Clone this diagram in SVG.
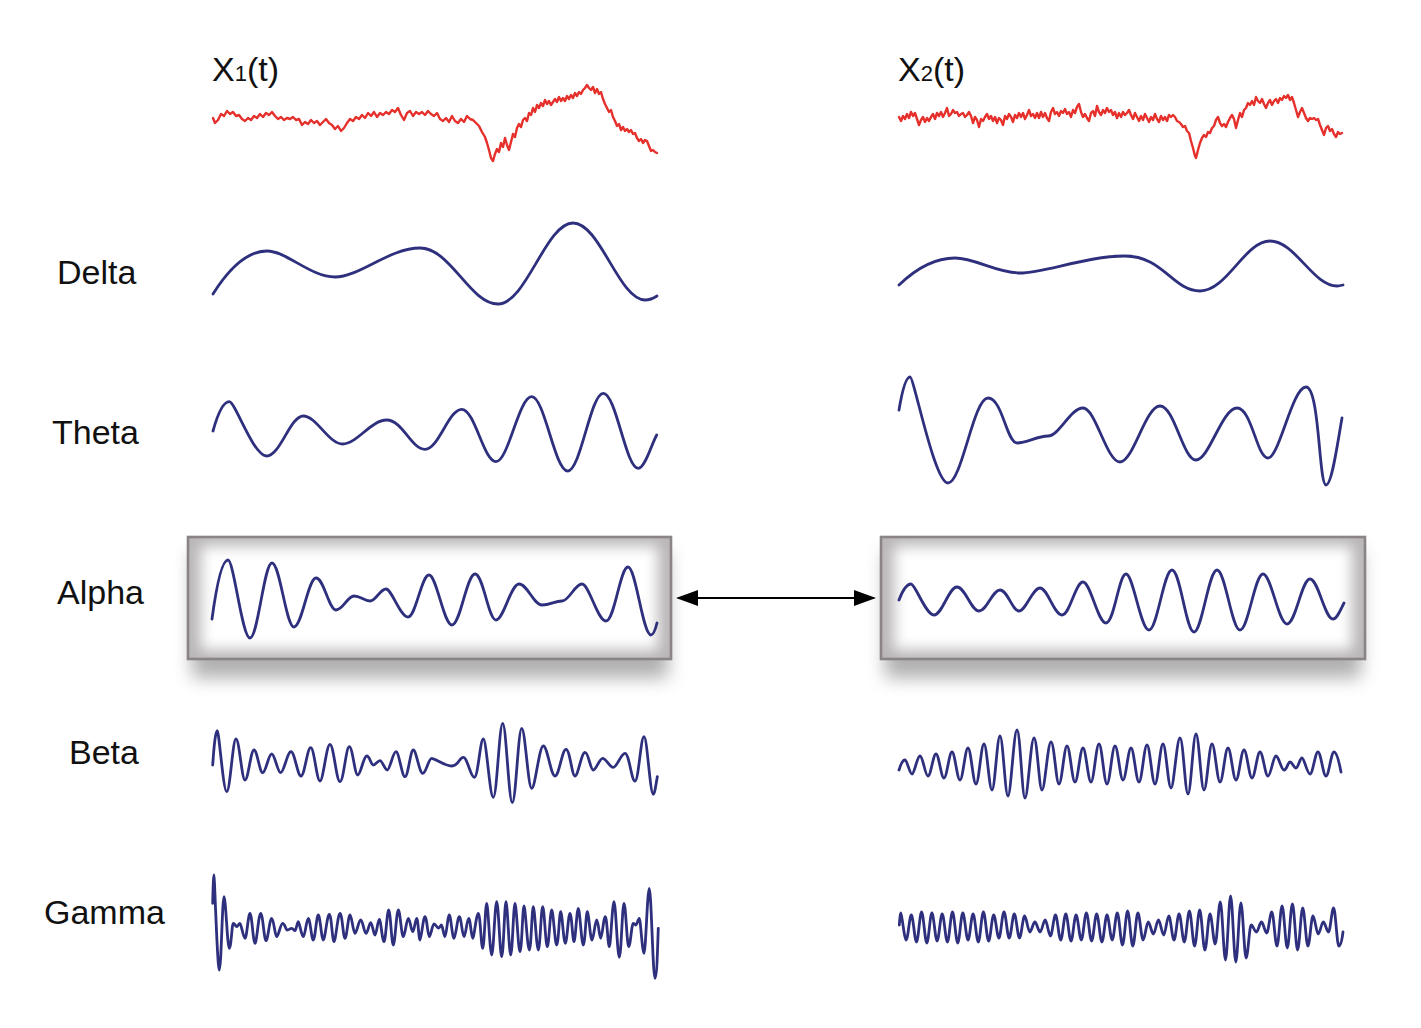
<svg xmlns="http://www.w3.org/2000/svg" width="1421" height="1028" viewBox="0 0 1421 1028">
<style>
.lbl{font-family:"Liberation Sans",Arial,Helvetica,sans-serif;font-size:34px;fill:#111}
.sig{fill:none;stroke:#2e307e;stroke-width:2.8;stroke-linejoin:round;stroke-linecap:round}
.raw{fill:none;stroke:#e5302c;stroke-width:2.4;stroke-linejoin:round;stroke-linecap:round}
.frame{fill:none;stroke:#8b8486;stroke-width:2.6}
.inner{fill:none;stroke:#b9b6b7;stroke-width:26}
.outer{fill:#7d7a7b;opacity:0.6}
</style>
<defs>
<filter id="blurOut" x="-10%" y="-40%" width="120%" height="180%"><feGaussianBlur stdDeviation="9"/></filter>
<filter id="blurIn" x="-10%" y="-30%" width="120%" height="160%"><feGaussianBlur stdDeviation="7"/></filter>
<clipPath id="clipL"><rect x="188" y="537" width="483" height="122"/></clipPath>
<clipPath id="clipR"><rect x="881" y="537" width="484" height="122"/></clipPath>
<marker id="ah" viewBox="0 0 22 16" refX="20" refY="8" markerWidth="22" markerHeight="16" markerUnits="userSpaceOnUse" orient="auto-start-reverse"><path d="M0,0 L22,8 L0,16 Z" fill="#000"/></marker>
</defs>
<rect width="1421" height="1028" fill="#fff"/>

<g id="box-alpha-x1">
<rect class="outer" x="192" y="552" width="476" height="126" filter="url(#blurOut)"/>
<rect x="188" y="537" width="483" height="122" fill="#fff"/>
<rect class="inner" x="188" y="533" width="483" height="130" filter="url(#blurIn)" clip-path="url(#clipL)"/>
<rect class="frame" x="188" y="537" width="483" height="122"/>
</g>
<g id="box-alpha-x2">
<rect class="outer" x="885" y="552" width="476" height="126" filter="url(#blurOut)"/>
<rect x="881" y="537" width="484" height="122" fill="#fff"/>
<rect class="inner" x="881" y="533" width="484" height="130" filter="url(#blurIn)" clip-path="url(#clipR)"/>
<rect class="frame" x="881" y="537" width="484" height="122"/>
</g>

<g id="labels">
<text class="lbl" x="212" y="81">X<tspan font-size="22">1</tspan>(t)</text>
<text class="lbl" x="898" y="81">X<tspan font-size="22">2</tspan>(t)</text>
<text class="lbl" x="57" y="284">Delta</text>
<text class="lbl" x="52" y="444">Theta</text>
<text class="lbl" x="57" y="604">Alpha</text>
<text class="lbl" x="69" y="764">Beta</text>
<text class="lbl" x="44" y="924">Gamma</text>
</g>

<g id="signal-x1-raw">
<polyline class="raw" points="213,118 215,123 218,120 221,114 224,116 227,111 230,114 233,112 236,116 239,115 242,119 245,121 248,118 251,120 254,116 257,118 260,114 263,117 266,113 269,115 272,112 275,116 278,119 281,117 284,120 287,118 290,119 293,117 296,120 299,119 302,125 305,122 308,124 311,120 314,123 317,121 320,125 323,122 326,119 329,123 332,125 335,129 338,126 341,131 344,128 347,123 350,119 353,121 356,117 359,119 362,115 365,118 368,113 371,116 374,112 377,117 380,113 383,115 386,112 389,114 392,110 395,112 398,108 401,115 404,120 407,113 410,111 413,116 416,112 419,114 422,112 425,115 428,111 431,114 434,116 437,113 440,119 443,121 446,118 449,122 452,116 455,121 458,123 461,119 464,122 467,116 470,119 473,120 476,123 479,126 482,132 485,137 487,143 489,150 491,158 493,161 495,154 497,149 499,152 501,143 503,147 505,138 507,145 509,150 511,142 513,134 515,137 517,128 519,124 521,127 523,120 525,118 527,121 529,113 531,115 533,108 535,112 537,105 539,108 541,103 543,106 545,100 547,104 549,101 551,105 553,102 555,99 557,102 559,97 561,101 563,98 565,101 567,96 569,99 571,95 573,98 575,93 577,96 579,92 581,94 583,90 585,88 587,85 589,88 591,90 593,87 595,93 597,89 599,94 601,92 603,99 605,104 607,108 609,112 611,110 613,117 615,121 617,126 619,124 621,130 623,127 625,131 627,129 629,132 631,130 633,134 635,133 637,138 639,141 641,139 643,143 645,140 647,141 649,146 651,151 653,150 655,152 657,153"/>
</g>
<g id="signal-x2-raw">
<polyline class="raw" points="899,117 901,121 903,116 905,119 907,114 909,118 911,112 913,116 915,113 917,119 919,125 921,120 923,117 925,122 927,118 929,121 931,117 933,114 935,119 937,113 939,116 941,112 943,117 945,113 947,108 949,116 951,114 953,110 955,113 957,112 959,116 961,114 963,113 965,117 967,115 969,112 971,116 973,123 975,117 977,120 979,127 981,119 983,121 985,117 987,114 989,119 991,116 993,121 995,117 997,123 999,118 1001,120 1003,125 1005,116 1007,119 1009,114 1011,117 1013,122 1015,115 1017,118 1019,113 1021,117 1023,113 1025,119 1027,115 1029,110 1031,116 1033,114 1035,118 1037,113 1039,118 1041,112 1043,117 1045,113 1047,118 1049,121 1051,112 1053,108 1055,114 1057,112 1059,116 1061,111 1063,113 1065,109 1067,114 1069,112 1071,117 1073,110 1075,113 1077,107 1079,104 1081,112 1083,117 1085,114 1087,118 1089,121 1091,113 1093,111 1095,116 1097,106 1099,112 1101,115 1103,110 1105,113 1107,108 1109,112 1111,110 1113,115 1115,112 1117,118 1119,113 1121,117 1123,112 1125,115 1127,113 1129,110 1131,115 1133,119 1135,113 1137,117 1139,121 1141,116 1143,120 1145,114 1147,118 1149,122 1151,117 1153,120 1155,114 1157,119 1159,122 1161,116 1163,120 1165,117 1167,121 1169,115 1171,117 1173,115 1175,117 1177,121 1179,122 1181,124 1183,127 1185,126 1187,131 1189,133 1191,141 1193,148 1195,156 1196,158 1198,150 1200,143 1202,138 1204,135 1206,137 1208,132 1210,133 1212,128 1214,126 1216,120 1218,117 1220,123 1222,126 1224,124 1226,127 1228,122 1230,118 1232,115 1234,119 1236,128 1238,120 1240,113 1242,117 1244,110 1246,108 1248,103 1250,105 1252,101 1254,105 1256,97 1258,101 1260,103 1262,99 1264,104 1266,108 1268,103 1270,100 1272,105 1274,101 1276,99 1278,103 1280,98 1282,100 1284,96 1286,98 1288,95 1290,100 1292,97 1294,103 1296,110 1298,117 1300,112 1302,108 1304,113 1306,118 1308,121 1310,118 1312,119 1314,118 1316,120 1318,119 1320,125 1322,130 1324,135 1326,128 1328,126 1330,131 1332,129 1334,134 1336,137 1338,132 1340,134 1342,133"/>
</g>

<g id="delta-x1"><path class="sig" d="M213,294 C229.2,268.2 247.6,251 267,251 S310.5,277 335,277 S389.4,248 420,248 S469.9,304 498,304 S546,223 573,223 S619.1,300 645,300 C649.3,300 653.4,298.4 657,296"/></g>
<g id="delta-x2"><path class="sig" d="M899,285 C915.8,268.8 934.8,258 955,258 S996.6,273 1020,273 S1087.2,256 1125,256 S1173,291 1200,291 S1244.8,241 1270,241 S1312.9,286 1337,286 C1339,286 1341,285.5 1343,285"/></g>

<g id="theta-x1"><path class="sig" d="M213,431 C217.9,413.4 223.4,401.7 229.3,401.7 S253.2,456 266.7,456 S290.1,416 303.3,416 S328.5,444 342.7,444 S370.9,420 386.7,420 S411.2,449.3 425,449.3 S448.5,409.3 461.7,409.3 S483.7,461.7 496,461.7 S518.8,396.7 531.7,396.7 S554.7,471 567.7,471 S590.5,393.3 603.3,393.3 S625.7,468.3 638.3,468.3 C644.9,468.3 651.2,445 656.7,435"/></g>
<g id="theta-x2"><path class="sig" d="M899,410 C902.3,390.2 906,377 910,377 S934.3,483 948,483 S973.6,398 988,398 S1006.6,443 1017,443 S1036.8,436 1048,436 S1070.4,408 1083,408 S1106.7,462 1120,462 S1145.6,406 1160,406 S1183,460 1196,460 S1222.2,408 1237,408 S1256.8,458 1268,458 S1292.3,387 1306,387 S1318.8,485 1326,485 C1331.8,485 1337.2,445 1342,418"/></g>

<g id="alpha-x1"><path class="sig" d="M212,619 C216.8,583.6 222.2,560 228,560 S242.1,638 250,638 S264.1,563 272,563 S286.1,627 294,627 S308.1,578 316,578 S328.8,610 336,610 S347.5,596 354,596 S364.2,601 370,601 S380.2,589 386,589 S400.1,617 408,617 S421.4,575 429,575 S443.7,625 452,625 S466.7,574 475,574 S488.4,620 496,620 S510.7,584 519,584 S533.7,605 542,605 S554.8,601 562,601 S574.8,584 582,584 S597.4,621 606,621 S620.1,567 628,567 S642.7,635 651,635 C653.2,635 655.2,630.2 657,623"/></g>
<g id="alpha-x2"><path class="sig" d="M899,600 C902.6,590.4 906.7,584 911,584 S925.7,615 934,615 S948.7,587 957,587 S971.1,611 979,611 S992.4,590 1000,590 S1012.2,611 1019,611 S1032.4,588 1040,588 S1054.1,615 1062,615 S1075.4,582 1083,582 S1097.7,623 1106,623 S1118.8,574 1126,574 S1140.7,630 1149,630 S1163.7,570 1172,570 S1186.1,632 1194,632 S1208.7,570 1217,570 S1231.7,630 1240,630 S1254.7,574 1263,574 S1278.4,624 1287,624 S1301.7,579 1310,579 S1324.7,619 1333,619 C1337,619 1340.7,609.4 1344,603"/></g>

<g id="beta-x1"><path class="sig" d="M212.7,765 C214.1,744.4 215.6,730.7 217.3,730.7 S223.3,791.7 226.7,791.7 S232.7,739 236,739 S241.8,780 245,780 S250.8,750 254,750 S259.6,772.7 262.7,772.7 S268.5,754 271.7,754 S277.5,772.7 280.7,772.7 S287.3,751.7 291,751.7 S297.4,776 301,776 S307.2,747.7 310.7,747.7 S316.7,781 320,781 S326.4,744.3 330,744.3 S336.4,781.7 340,781.7 S346,746.7 349.3,746.7 S354.7,775 357.7,775 S363.5,756 366.7,756 S370.9,765 373.3,765 S377.6,760.7 380,760.7 S384.7,770 387.3,770 S392.9,751.7 396,751.7 S401.8,776.7 405,776.7 S410.3,750 413.3,750 S419.3,773.3 422.7,773.3 S428.5,758.3 431.7,758.3 S444.5,766 451.7,766 S459.1,757.3 463.3,757.3 S470.4,777.3 474.3,777.3 S480.1,739 483.3,739 S489.7,797.3 493.3,797.3 S499.3,723.3 502.7,723.3 S508.8,802.7 512.3,802.7 S518.3,728.3 521.7,728.3 S528.1,788.3 531.7,788.3 S539.1,746 543.3,746 S550.8,776 555,776 S562,749.3 566,749.3 S571.8,776 575,776 S581.4,752.3 585,752.3 S590.3,770 593.3,770 S599.3,758.3 602.7,758.3 S609.5,767.3 613.3,767.3 S620.8,753.3 625,753.3 S631.4,781 635,781 S640.8,736.7 644,736.7 S650,794.3 653.3,794.3 C654.7,794.3 656.1,783.7 657.3,776.7"/></g>
<g id="beta-x2"><path class="sig" d="M899,770 C900.8,764 902.8,760 905,760 S909.5,774 912,774 S917.1,756 920,756 S925.1,776 928,776 S933.1,754 936,754 S941.1,778 944,778 S949.1,752 952,752 S957.1,780 960,780 S965.1,748 968,748 S973.1,784 976,784 S981.1,744 984,744 S989.1,790 992,790 S997.1,736 1000,736 S1005.1,796 1008,796 S1013.8,730 1017,730 S1022.1,798 1025,798 S1030.8,738 1034,738 S1039.1,790 1042,790 S1047.8,742 1051,742 S1056.1,784 1059,784 S1064.1,746 1067,746 S1072.1,782 1075,782 S1080.1,748 1083,748 S1088.1,782 1091,782 S1096.1,744 1099,744 S1104.1,784 1107,784 S1112.1,746 1115,746 S1120.1,780 1123,780 S1128.1,748 1131,748 S1136.1,782 1139,782 S1144.1,745 1147,745 S1152.1,784 1155,784 S1160.1,744 1163,744 S1168.1,788 1171,788 S1176.8,738 1180,738 S1185.1,794 1188,794 S1193.1,734 1196,734 S1201.1,790 1204,790 S1209.1,744 1212,744 S1217.1,782 1220,782 S1225.1,748 1228,748 S1233.1,780 1236,780 S1241.1,750 1244,750 S1249.1,778 1252,778 S1257.1,752 1260,752 S1265.1,776 1268,776 S1273.1,756 1276,756 S1281.1,770 1284,770 S1287.8,762 1290,762 S1293.8,768 1296,768 S1299.8,758 1302,758 S1307.1,774 1310,774 S1315.1,752 1318,752 S1323.1,776 1326,776 S1331.1,752 1334,752 C1336.9,752 1339.5,764 1341,772"/></g>

<g id="gamma-x1"><path class="sig" d="M212.7,903.3 C213.1,886.3 213.5,875 214,875 S217.4,970 219.3,970 S222.3,896.7 224,896.7 S227.4,948.3 229.3,948.3 S231.9,923.3 233.3,923.3 S235.5,926.7 236.7,926.7 S238.8,923.3 240,923.3 S243.2,938.3 245,938.3 S248.2,913.3 250,913.3 S253.2,943.3 255,943.3 S258.6,913.3 260.7,913.3 S264.1,940.7 266,940.7 S269.6,918.3 271.7,918.3 S274.9,936.7 276.7,936.7 S280.5,923.3 282.7,923.3 S285.6,930 287.3,930 S290.1,928.3 291.7,928.3 S293.8,930.7 295,930.7 S297.1,921.7 298.3,921.7 S301.5,936.7 303.3,936.7 S306.5,918.3 308.3,918.3 S311.5,940 313.3,940 S316.5,915 318.3,915 S321.5,940 323.3,940 S327.1,914.3 329.3,914.3 S332.3,941.7 334,941.7 S337.8,913.3 340,913.3 S343.2,938.3 345,938.3 S348.2,915 350,915 S353.2,933.3 355,933.3 S358.6,920 360.7,920 S364.1,933.3 366,933.3 S369,922.7 370.7,922.7 S373.5,935 375,935 S377.8,919.3 379.3,919.3 S382.3,941.7 384,941.7 S387,910 388.7,910 S391.6,945 393.3,945 S396.5,910 398.3,910 S401.5,936.7 403.3,936.7 S406.5,918.3 408.3,918.3 S411.1,931.7 412.7,931.7 S415.3,918.3 416.7,918.3 S418.8,940 420,940 S423.2,916.7 425,916.7 S427.8,936.7 429.3,936.7 S432.3,924 434,924 S436.9,928 438.5,928 S440.4,925 441.5,925 S443.7,936.7 445,936.7 S447.8,915 449.3,915 S452.3,938.3 454,938.3 S457.4,916.7 459.3,916.7 S462.3,936.7 464,936.7 S467,918.3 468.7,918.3 S471.3,938.3 472.7,938.3 S476.3,913.3 478.3,913.3 S481.1,948.3 482.7,948.3 S485.3,903.3 486.7,903.3 S489.9,955 491.7,955 S494.9,901.7 496.7,901.7 S499.9,956.7 501.7,956.7 S504.5,901.7 506,901.7 S509,955 510.7,955 S513.5,903.3 515,903.3 S518.2,951.7 520,951.7 S522.6,906 524,906 S527.4,950 529.3,950 S531.9,906.7 533.3,906.7 S536.5,950 538.3,950 S541.1,906.7 542.7,906.7 S545.6,946.7 547.3,946.7 S550.1,910 551.7,910 S554.9,945 556.7,945 S559.3,911.7 560.7,911.7 S563.6,943.3 565.3,943.3 S568.3,913.3 570,913.3 S572.6,941.7 574,941.7 S576.8,908.3 578.3,908.3 S581.5,945 583.3,945 S585.9,911.7 587.3,911.7 S590.3,940 592,940 S595,920 596.7,920 S599.3,938.3 600.7,938.3 S603.6,916.7 605.3,916.7 S607.9,946.7 609.3,946.7 S612.3,901.7 614,901.7 S617.4,957.3 619.3,957.3 S622.3,903.3 624,903.3 S627,946.7 628.7,946.7 S631.6,923.3 633.3,923.3 S635,925 636,925 S638.1,918.3 639.3,918.3 S642.3,953.3 644,953.3 S647.4,888.3 649.3,888.3 S652.9,978.3 655,978.3 C657,978.3 657.6,945 658.3,928.3"/></g>
<g id="gamma-x2"><path class="sig" d="M899.3,925 C899.8,919 900.3,913 901,913 S904.4,940 906.2,940 S909.5,915 911.3,915 S914.7,942 916.5,942 S919.8,912 921.6,912 S925,943 926.8,943 S930.1,913 931.9,913 S935.3,941 937.1,941 S940.4,914 942.2,914 S945.6,942 947.4,942 S950.7,912 952.5,912 S955.9,943 957.7,943 S961,913 962.8,913 S966.2,940 968,940 S971.3,914 973.1,914 S976.5,942 978.3,942 S981.6,912 983.4,912 S986.8,941 988.6,941 S991.9,915 993.7,915 S997.1,938 998.9,938 S1002.2,912 1004,912 S1007.4,938 1009.2,938 S1012.5,914 1014.3,914 S1017.7,938 1019.5,938 S1022.8,916 1024.6,916 S1028,932 1029.8,932 S1033.1,922 1034.9,922 S1038.3,932 1040.1,932 S1043.4,920 1045.2,920 S1048.6,936 1050.4,936 S1053.7,915 1055.5,915 S1058.9,940 1060.7,940 S1064,914 1065.8,914 S1069.2,941 1071,941 S1074.3,915 1076.1,915 S1079.5,940 1081.3,940 S1084.6,913 1086.4,913 S1089.8,941 1091.6,941 S1094.9,914 1096.7,914 S1100.1,942 1101.9,942 S1105.2,915 1107,915 S1110.4,940 1112.2,940 S1115.5,913 1117.3,913 S1120.7,945 1122.5,945 S1125.8,911 1127.6,911 S1131,946 1132.8,946 S1136.1,913 1137.9,913 S1141.3,940 1143.1,940 S1146.4,922 1148.2,922 S1151.6,934 1153.4,934 S1156.7,920 1158.5,920 S1161.9,935 1163.7,935 S1167,916 1168.8,916 S1172.2,940 1174,940 S1177.3,914 1179.1,914 S1182.5,942 1184.3,942 S1187.6,911 1189.4,911 S1192.8,946 1194.6,946 S1197.9,910 1199.7,910 S1203.1,950 1204.9,950 S1208.2,914 1210,914 S1213.4,944 1215.2,944 S1218.5,902 1220.3,902 S1223.7,960 1225.5,960 S1228.8,896 1230.6,896 S1234,962 1235.8,962 S1239.1,903 1240.9,903 S1244.3,958 1246.1,958 S1249.4,925 1251.2,925 S1254.6,932 1256.4,932 S1259.7,922 1261.5,922 S1264.9,933 1266.7,933 S1270,912 1271.8,912 S1275.2,946 1277,946 S1280.3,906 1282.1,906 S1285.5,948 1287.3,948 S1290.6,904 1292.4,904 S1295.8,950 1297.6,950 S1300.9,908 1302.7,908 S1306.1,946 1307.9,946 S1311.2,916 1313,916 S1316.4,934 1318.2,934 S1321.5,922 1323.3,922 S1326.7,932 1328.5,932 S1331.8,908 1333.6,908 S1337,946 1338.8,946 C1340.7,946 1342,940 1343,932"/></g>

<g id="connectors">
<line x1="678" y1="598" x2="874" y2="598" stroke="#000" stroke-width="2" marker-start="url(#ah)" marker-end="url(#ah)"/>
</g>
</svg>
